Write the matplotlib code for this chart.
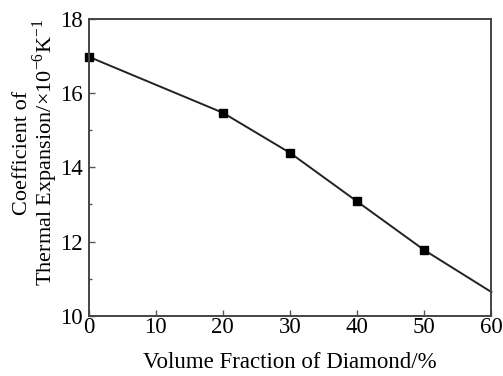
#!/usr/bin/env python3
"""CTE vs diamond volume fraction."""

import matplotlib
matplotlib.use("Agg")
import matplotlib.pyplot as plt
from matplotlib.ticker import MultipleLocator

plt.rcParams["font.family"] = ["Liberation Serif", "DejaVu Serif"]
plt.rcParams["mathtext.fontset"] = "custom"
plt.rcParams["mathtext.rm"] = "Liberation Serif"

fraction = [0, 20, 30, 40, 50, 60]
cte = [16.98, 15.47, 14.39, 13.08, 11.77, 10.64]
marked = [0, 1, 2, 3, 4]

fig = plt.figure(figsize=(5.03, 3.76), dpi=100)
ax = fig.add_axes([0.176, 0.16, 0.801, 0.79])

ax.plot(fraction, cte, color="#222222", linewidth=1.4, marker="s", markersize=6,
        markerfacecolor="black", markeredgecolor="black", markevery=marked, clip_on=False)

ax.set_xlim(0, 60)
ax.set_ylim(10, 18)
ax.xaxis.set_major_locator(MultipleLocator(10))
ax.yaxis.set_major_locator(MultipleLocator(2))
ax.yaxis.set_minor_locator(MultipleLocator(1))
ax.tick_params(which="both", direction="in", labelsize=16.5, width=1.0, color="#555555")
ax.tick_params(which="major", length=4)
ax.tick_params(which="minor", length=2.5)
ax.tick_params(axis="x", pad=1)
ax.tick_params(axis="y", pad=4)
for s in ax.spines.values():
    s.set_linewidth(1.4)
    s.set_color("#444444")

ax.set_xlabel("Volume Fraction of Diamond/%", fontsize=16.5, labelpad=10)
ax.set_ylabel("Coefficient of\nThermal Expansion/\u00d710$^{-6}$K$^{-1}$", fontsize=16,
              linespacing=0.95)
ax.yaxis.set_label_coords(-0.07, 0.55)

fig.savefig("out.png", dpi=100)
plt.close(fig)
